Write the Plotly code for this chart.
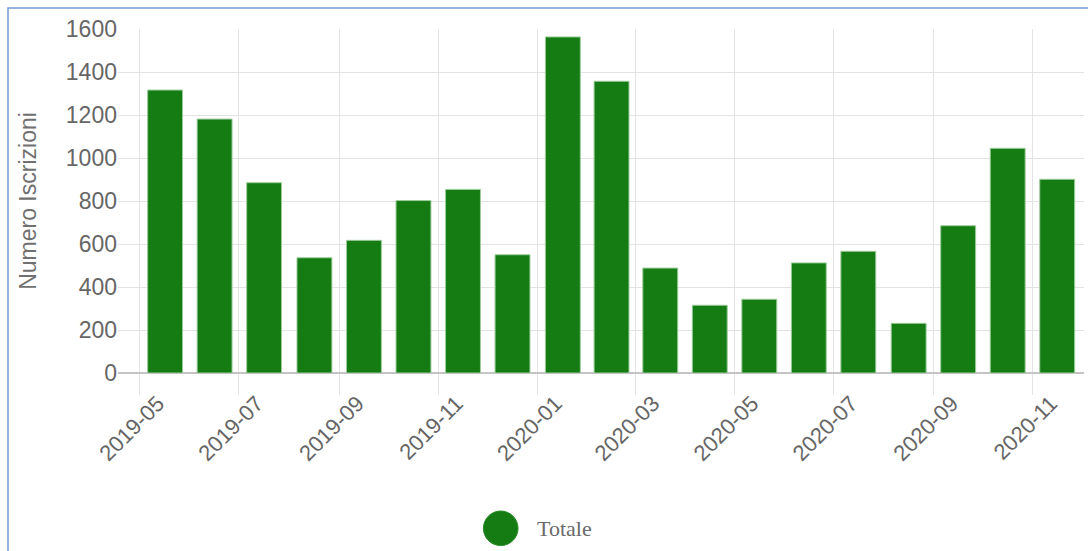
import plotly.graph_objects as go

months = ["2019-05", "2019-06", "2019-07", "2019-08", "2019-09", "2019-10", "2019-11",
          "2019-12", "2020-01", "2020-02", "2020-03", "2020-04", "2020-05", "2020-06",
          "2020-07", "2020-08", "2020-09", "2020-10", "2020-11"]
totale = [1316, 1181, 885, 536, 617, 802, 854, 550, 1563, 1357, 488, 315, 343, 512,
          566, 231, 685, 1045, 901]
series_name = "Totale"
y_title = "Numero Iscrizioni"

W, H = 1088, 551
L, R, T, B = 118, 4, 29, 178
PW, PH = W - L - R, H - T - B

def px(x):
    return (x - L) / PW

def py(y):
    return (H - B - y) / PH

green = "#157c13"
grid = "#e3e3e3"
tickc = "#666666"

fig = go.Figure()
fig.add_trace(go.Bar(
    x=months, y=totale, name=series_name,
    xperiod="M1", xperiodalignment="middle",
    width=21.5 * 86400000,
    marker=dict(color=green, line=dict(color="#9ccc9a", width=1)),
    showlegend=False,
))

fig.update_layout(
    width=W, height=H,
    margin=dict(l=L, r=R, t=T, b=B, autoexpand=False),
    paper_bgcolor="white", plot_bgcolor="white",
    font=dict(family="Liberation Sans, Arial, sans-serif", color=tickc),
)
fig.update_xaxes(
    type="date",
    range=["2019-04-17 12:00", "2020-12-02 12:00"],
    tick0="2019-05-01", dtick="M2", tickformat="%Y-%m",
    tickangle=-45,
    tickfont=dict(size=22, color=tickc),
    showgrid=True, gridcolor=grid, gridwidth=1,
    ticks="outside", ticklen=21, tickcolor=grid, tickwidth=1,
    ticklabelstandoff=-13, ticklabelshift=18,
    showline=False, zeroline=False,
    automargin=False,
)
fig.update_yaxes(
    range=[0, 1600], dtick=200,
    tickfont=dict(size=23, color=tickc),
    showgrid=True, gridcolor=grid, gridwidth=1,
    zeroline=True, zerolinecolor="#c4c4c4", zerolinewidth=1.5,
    showline=False, ticks="",
    title=dict(text=y_title, font=dict(size=23, color="#707070"), standoff=22),
    automargin=False,
)

# outer frame (blue border)
fig.add_shape(type="rect", xref="paper", yref="paper",
              x0=px(8), x1=px(1100), y0=py(600), y1=py(8),
              line=dict(color="#6d9bd1", width=1.5), fillcolor="rgba(0,0,0,0)",
              layer="above")
# legend: circle + label
fig.add_shape(type="circle", xref="paper", yref="paper",
              x0=px(483.4), x1=px(518), y0=py(545.6), y1=py(511),
              line=dict(color="#2a8a28", width=1), fillcolor=green)
fig.add_annotation(text=series_name, xref="paper", yref="paper",
                   x=px(535), y=py(528), xanchor="left", yanchor="middle",
                   showarrow=False,
                   font=dict(family="Liberation Serif, Times New Roman, serif",
                             size=22, color="#6a6a6a"))

fig.write_html("out.html", config={"displayModeBar": False},
               post_script="document.body.style.margin='0';")
